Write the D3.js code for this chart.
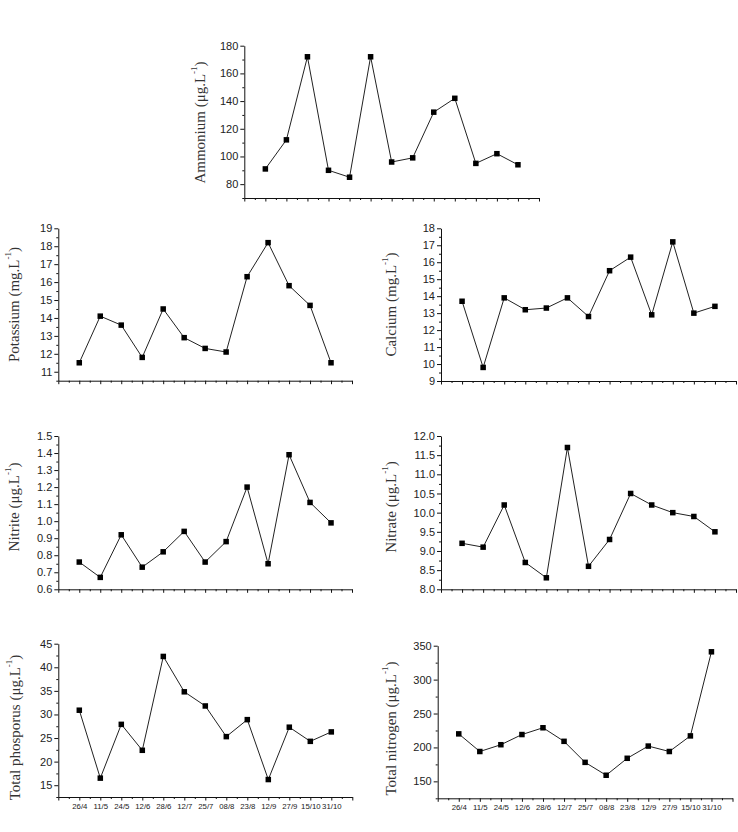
<!DOCTYPE html>
<html>
<head>
<meta charset="utf-8">
<script src="https://cdn.jsdelivr.net/npm/d3@7"></script>
<style>
  html, body { margin: 0; padding: 0; background: #fff; }
  svg { display: block; }
</style>
</head>
<body>
<svg id="chart" width="738" height="832"></svg>
<script>
// ---- data ----
const dates = ["26/4","11/5","24/5","12/6","28/6","12/7","25/7","08/8","23/8","12/9","27/9","15/10","31/10"];
const ammonium = [91, 112, 172, 90, 85, 172, 96, 99, 132, 142, 95, 102, 94];
const potassium = [11.5, 14.1, 13.6, 11.8, 14.5, 12.9, 12.3, 12.1, 16.3, 18.2, 15.8, 14.7, 11.5];
const calcium = [13.7, 9.8, 13.9, 13.2, 13.3, 13.9, 12.8, 15.5, 16.3, 12.9, 17.2, 13.0, 13.4];
const nitrite = [0.76, 0.67, 0.92, 0.73, 0.82, 0.94, 0.76, 0.88, 1.20, 0.75, 1.39, 1.11, 0.99];
const nitrate = [9.2, 9.1, 10.2, 8.7, 8.3, 11.7, 8.6, 9.3, 10.5, 10.2, 10.0, 9.9, 9.5];
const totalPhosphorus = [30.9, 16.5, 27.9, 22.4, 42.3, 34.8, 31.8, 25.3, 28.9, 16.2, 27.3, 24.3, 26.3];
const totalNitrogen = [220, 194, 204, 219, 229, 209, 178, 159, 184, 202, 194, 217, 341];

const ammoniumTicks = [80, 100, 120, 140, 160, 180];
const potassiumTicks = [11, 12, 13, 14, 15, 16, 17, 18, 19];
const calciumTicks = [9, 10, 11, 12, 13, 14, 15, 16, 17, 18];
const nitriteTicks = [0.6, 0.7, 0.8, 0.9, 1.0, 1.1, 1.2, 1.3, 1.4, 1.5];
const nitrateTicks = [8.0, 8.5, 9.0, 9.5, 10.0, 10.5, 11.0, 11.5, 12.0];
const phosphorusTicks = [15, 20, 25, 30, 35, 40, 45];
const nitrogenTicks = [150, 200, 250, 300, 350];

// ---- layout ----
const panels = [
  { title: "Ammonium (μg.L", values: ammonium, ticks: ammoniumTicks, domain: [70, 180], minorStep: 10, fmt: d => d,
    x0: 244.3, x1: 539, yTop: 45.7, yBot: 198, tx: 200, ty: 122.5, labels: false },
  { title: "Potassium (mg.L", values: potassium, ticks: potassiumTicks, domain: [10.5, 19], minorStep: 0.5, fmt: d => d,
    x0: 58.3, x1: 352, yTop: 228.3, yBot: 380.7, tx: 14, ty: 304.5, labels: false },
  { title: "Calcium (mg.L", values: calcium, ticks: calciumTicks, domain: [9, 18], minorStep: 0.5, fmt: d => d,
    x0: 441, x1: 736, yTop: 228.3, yBot: 381, tx: 391, ty: 304.5, labels: false },
  { title: "Nitrite (μg.L", values: nitrite, ticks: nitriteTicks, domain: [0.6, 1.5], minorStep: 0.05, fmt: d3.format(".1f"),
    x0: 58.3, x1: 352, yTop: 436, yBot: 589.3, tx: 14, ty: 507, labels: false },
  { title: "Nitrate (μg.L", values: nitrate, ticks: nitrateTicks, domain: [8, 12], minorStep: 0.25, fmt: d3.format(".1f"),
    x0: 441, x1: 736, yTop: 436, yBot: 589.3, tx: 391, ty: 507, labels: false },
  { title: "Total phosporus (μg.L", values: totalPhosphorus, ticks: phosphorusTicks, domain: [12.5, 45], minorStep: 2.5, fmt: d => d,
    x0: 58.3, x1: 352.3, yTop: 643.7, yBot: 797, tx: 15, ty: 727.5, labels: true },
  { title: "Total nitrogen (μg.L", values: totalNitrogen, ticks: nitrogenTicks, domain: [125, 350], minorStep: 25, fmt: d => d,
    x0: 437.7, x1: 732.5, yTop: 645.7, yBot: 798.3, tx: 391, ty: 728.5, labels: true }
];

const svg = d3.select("#chart");

function minorValues(domain, step, majors) {
  const out = [];
  for (let v = domain[0]; v <= domain[1] + 1e-9; v += step) {
    const r = Math.round(v * 1000) / 1000;
    if (!majors.some(m => Math.abs(m - r) < 1e-6)) out.push(r);
  }
  return out;
}

panels.forEach(p => {
  const g = svg.append("g");
  const x = d3.scaleLinear().domain([0, dates.length + 1]).range([p.x0, p.x1]);
  const y = d3.scaleLinear().domain(p.domain).range([p.yBot, p.yTop]);

  // x axis: major ticks at integers, minor at halves
  const majorX = d3.range(0, dates.length + 2);
  const minorX = d3.range(0.5, dates.length + 1, 1);
  const xAxis = g.append("g").attr("transform", `translate(0,${p.yBot})`)
    .call(d3.axisBottom(x).tickValues(majorX).tickSize(3.5).tickSizeOuter(0)
      .tickPadding(3)
      .tickFormat(i => (p.labels && i >= 1 && i <= dates.length) ? dates[i - 1] : ""));
  g.append("g").attr("transform", `translate(0,${p.yBot})`)
    .call(d3.axisBottom(x).tickValues(minorX).tickSize(2).tickFormat(""))
    .select(".domain").remove();
  xAxis.selectAll("text").attr("font-family", "'Liberation Sans', Arial, sans-serif")
    .attr("font-size", "7.8px").attr("fill", "#222");

  // y axis
  const yAxis = g.append("g").attr("transform", `translate(${p.x0},0)`)
    .call(d3.axisLeft(y).tickValues(p.ticks).tickSize(4).tickSizeOuter(0).tickPadding(2).tickFormat(p.fmt));
  g.append("g").attr("transform", `translate(${p.x0},0)`)
    .call(d3.axisLeft(y).tickValues(minorValues(p.domain, p.minorStep, p.ticks)).tickSize(2).tickFormat(""))
    .select(".domain").remove();
  yAxis.selectAll("text").attr("font-family", "'Liberation Sans', Arial, sans-serif")
    .attr("font-size", "11px").attr("fill", "#222");

  g.selectAll(".domain, .tick line").attr("stroke", "#111").attr("stroke-width", 1);

  // line
  const line = d3.line().x((d, i) => x(i + 1)).y(d => y(d));
  g.append("path").datum(p.values).attr("d", line)
    .attr("fill", "none").attr("stroke", "#222").attr("stroke-width", 1);

  // markers
  const s = 5.5;
  g.selectAll("rect.pt").data(p.values).join("rect").attr("class", "pt")
    .attr("x", (d, i) => x(i + 1) - s / 2).attr("y", d => y(d) - s / 2)
    .attr("width", s).attr("height", s).attr("fill", "#000");

  // y title
  const t = svg.append("text")
    .attr("transform", `translate(${p.tx},${p.ty}) rotate(-90)`)
    .attr("text-anchor", "middle").attr("dominant-baseline", "central")
    .attr("font-family", "'Liberation Serif', 'Times New Roman', serif")
    .attr("font-size", "15px").attr("fill", "#333");
  t.append("tspan").text(p.title);
  t.append("tspan").attr("font-size", "9px").attr("dy", "-6").text("-1");
  t.append("tspan").attr("dy", "6").text(")");
});
</script>
</body>
</html>
